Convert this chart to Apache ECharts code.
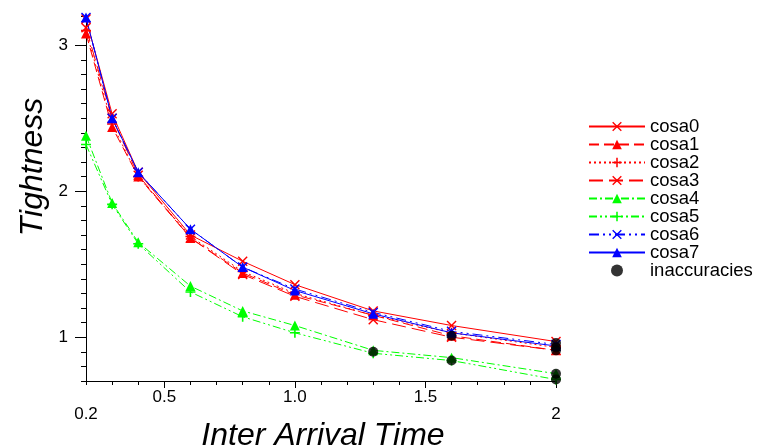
<!DOCTYPE html>
<html>
<head>
<meta charset="utf-8">
<script src="https://cdn.jsdelivr.net/npm/echarts@6/dist/echarts.min.js"></script>
<style>
html,body{margin:0;padding:0;background:#fff;}
#c{width:759px;height:448px;}
</style>
</head>
<body>
<div id="c"></div>
<script>
// ---- data ----
const xValues = [0.2, 0.3, 0.4, 0.6, 0.8, 1.0, 1.3, 1.6, 2.0];
const cosa0 = [3.18, 2.53, 2.13, 1.70, 1.52, 1.36, 1.18, 1.08, 0.97];
const cosa1 = [3.08, 2.44, 2.10, 1.68, 1.44, 1.29, 1.15, 1.01, 0.91];
const cosa2 = [3.10, 2.46, 2.10, 1.69, 1.45, 1.30, 1.15, 1.03, 0.93];
const cosa3 = [3.12, 2.50, 2.11, 1.68, 1.43, 1.28, 1.12, 1.00, 0.91];
const cosa4 = [2.38, 1.92, 1.65, 1.35, 1.18, 1.08, 0.91, 0.86, 0.75];
const cosa5 = [2.32, 1.91, 1.64, 1.31, 1.14, 1.03, 0.89, 0.84, 0.71];
const cosa6 = [3.19, 2.50, 2.13, 1.74, 1.48, 1.33, 1.17, 1.04, 0.95];
const cosa7 = [3.19, 2.50, 2.13, 1.74, 1.48, 1.32, 1.16, 1.03, 0.94];
const inaccX = [1.3, 1.6, 1.6, 2.0, 2.0, 2.0, 2.0, 2.0];
const inaccY = [0.90, 1.01, 0.84, 0.96, 0.93, 0.91, 0.75, 0.71];

const xTickValues = [0.2, 0.5, 1.0, 1.5, 2.0];
const xTickLabels = ['0.2', '0.5', '1.0', '1.5', '2'];
const xLowRow = ['0.2', '2'];
const yTickValues = [1, 2, 3];
const yTickLabels = ['1', '2', '3'];

const xTitle = 'Inter Arrival Time';
const yTitle = 'Tightness';

// ---- styles ----
const FONT = '"Liberation Sans", Arial, sans-serif';
const RED = '#ff0000', GREEN = '#00ff00', BLUE = '#0000ff';
const CROSS = 'path://M0,1L1,0L5,4L9,0L10,1L6,5L10,9L9,10L5,6L1,10L0,9L4,5Z';
const PLUS = 'path://M4.2,0H5.8V4.2H10V5.8H5.8V10H4.2V5.8H0V4.2H4.2Z';

function zip(ys) { return xValues.map((x, i) => [x, ys[i]]); }
function lineSeries(name, ys, color, type, symbol, size) {
  return {
    name, type: 'line', data: zip(ys), symbol, symbolSize: size,
    showAllSymbol: true, animation: false, z: 2,
    lineStyle: { color, width: 1, type },
    itemStyle: { color },
    emphasis: { disabled: true }
  };
}

const series = [
  lineSeries('cosa0', cosa0, RED, 'solid', CROSS, 10),
  lineSeries('cosa1', cosa1, RED, [10, 5], 'triangle', 10),
  lineSeries('cosa2', cosa2, RED, [2, 3], PLUS, 10),
  lineSeries('cosa3', cosa3, RED, [14, 6], CROSS, 10),
  lineSeries('cosa4', cosa4, GREEN, [8, 3, 2, 3], 'triangle', 10),
  lineSeries('cosa5', cosa5, GREEN, [8, 3, 2, 3, 2, 3], PLUS, 10),
  lineSeries('cosa6', cosa6, BLUE, [10, 4, 2, 4, 2, 4], CROSS, 10),
  lineSeries('cosa7', cosa7, BLUE, 'solid', 'triangle', 10),
  {
    name: 'inaccuracies', type: 'scatter', symbol: 'circle', symbolSize: 10, z: 5,
    data: inaccX.map((x, i) => [x, inaccY[i]]), itemStyle: { color: '#000' },
    animation: false, emphasis: { disabled: true }
  }
];

const gridCfg = { left: 86, top: 16, width: 470, height: 365 };

const option = {
  backgroundColor: '#fff',
  animation: false,
  grid: gridCfg,
  xAxis: [
    {
      type: 'value', min: 0.2, max: 2.0, interval: 0.1, position: 'bottom',
      axisLine: { show: true, lineStyle: { color: '#000', width: 1 } },
      axisTick: { show: true, length: 4, lineStyle: { color: '#000' } },
      axisLabel: { show: false }, splitLine: { show: false }
    },
    {
      type: 'value', min: 0.2, max: 2.0, interval: 0.1, position: 'bottom', offset: 0,
      axisLine: { show: false },
      axisTick: { show: true, length: 7, lineStyle: { color: '#000' }, customValues: xTickValues.slice(1) },
      axisLabel: {
        show: true, customValues: xTickValues, margin: 8,
        fontFamily: FONT, fontSize: 17, color: '#000', lineHeight: 17,
        formatter: function (v) {
          let idx = xTickValues.findIndex(t => Math.abs(t - v) < 1e-6);
          let s = idx >= 0 ? xTickLabels[idx] : '';
          return xLowRow.indexOf(s) >= 0 ? '\n' + s : s;
        }
      },
      splitLine: { show: false }
    }
  ],
  yAxis: [
    {
      type: 'value', min: 0.7, max: 3.2, interval: 0.1, position: 'left',
      axisLine: { show: true, lineStyle: { color: '#000', width: 1 } },
      axisTick: { show: true, length: 5, lineStyle: { color: '#000' } },
      axisLabel: { show: false }, splitLine: { show: false }
    },
    {
      type: 'value', min: 0.7, max: 3.2, interval: 0.1, position: 'left', offset: 0,
      axisLine: { show: false },
      axisTick: { show: true, length: 11, lineStyle: { color: '#000' }, customValues: yTickValues },
      axisLabel: {
        show: true, customValues: yTickValues, margin: 18,
        fontFamily: FONT, fontSize: 17, color: '#000',
        formatter: function (v) {
          let idx = yTickValues.findIndex(t => Math.abs(t - v) < 1e-6);
          return idx >= 0 ? yTickLabels[idx] : '';
        }
      },
      splitLine: { show: false }
    }
  ],
  legend: {
    orient: 'vertical', left: 588, top: 117, padding: 0,
    itemWidth: 56, itemHeight: 12, itemGap: -1,
    textStyle: { fontFamily: FONT, fontSize: 18.5, color: '#000', lineHeight: 18 },
    data: ['cosa0', 'cosa1', 'cosa2', 'cosa3', 'cosa4', 'cosa5', 'cosa6', 'cosa7', 'inaccuracies'],
    selectedMode: false
  },
  graphic: [
    {
      type: 'text', x: 33, y: 167, rotation: Math.PI / 2,
      style: { text: yTitle, font: 'italic 32px ' + FONT, fill: '#000', align: 'center', verticalAlign: 'middle' }
    },
    {
      type: 'text', x: 323, y: 436,
      style: { text: xTitle, font: 'italic 32px ' + FONT, fill: '#000', align: 'center', verticalAlign: 'middle' }
    }
  ],
  series: series.map(s => Object.assign(s, { xAxisIndex: 0, yAxisIndex: 0 }))
};

const chart = echarts.init(document.getElementById('c'), null, { renderer: 'canvas' });
chart.setOption(option);
</script>
</body>
</html>
